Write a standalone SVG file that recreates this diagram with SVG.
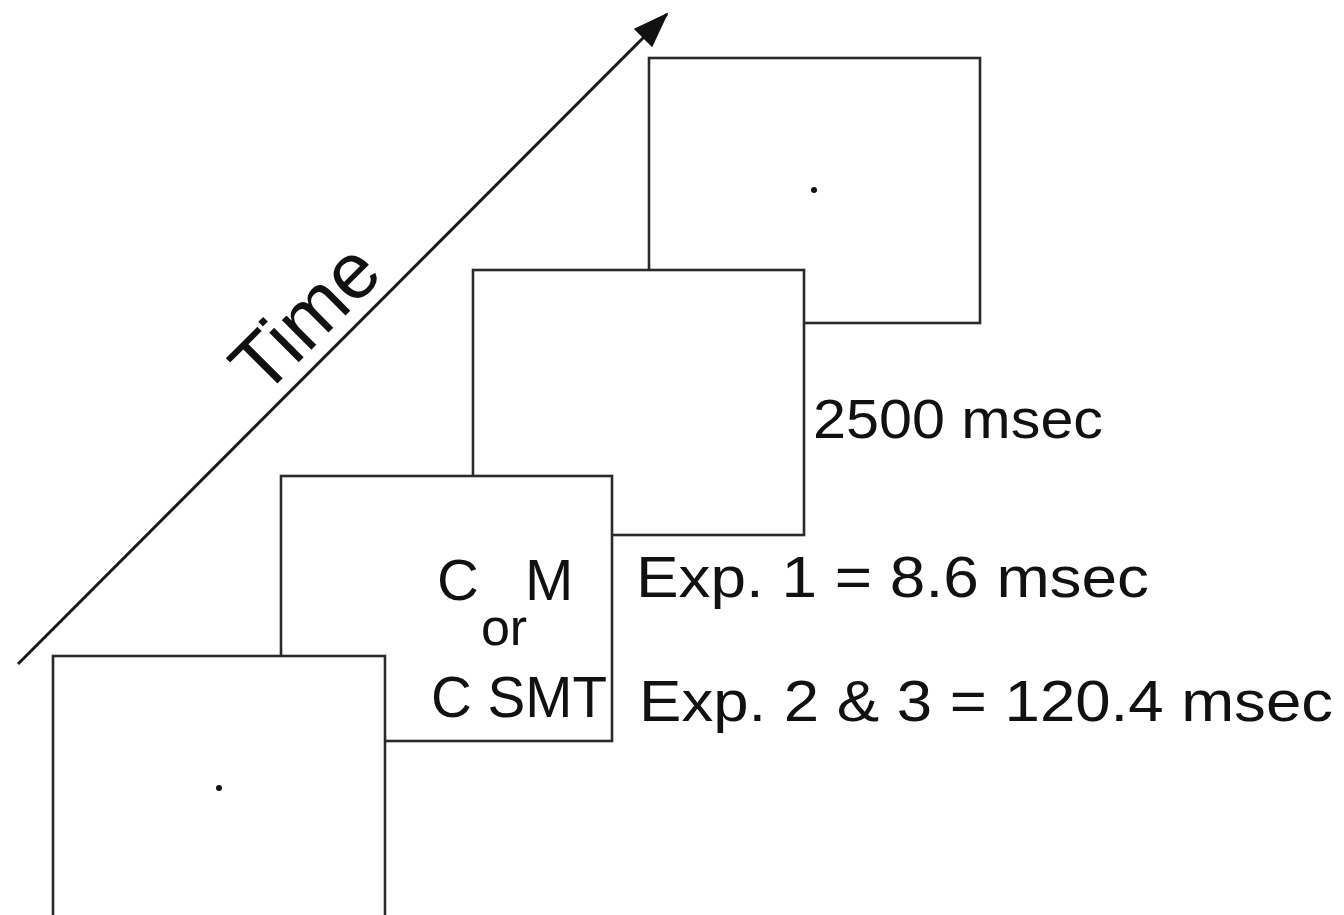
<svg xmlns="http://www.w3.org/2000/svg" width="1344" height="915" viewBox="0 0 1344 915">
  <style>
    .screen { fill: #ffffff; stroke: #2a2a2a; stroke-width: 2.6; }
    .fix { fill: #111111; }
    .lbl { font-family: "Liberation Sans", Arial, Helvetica, sans-serif; fill: #111111; }
    .axis { stroke: #1a1a1a; stroke-width: 3; fill: none; }
  </style>
  <defs>
    <marker id="arrowhead" markerUnits="userSpaceOnUse" markerWidth="40" markerHeight="30" refX="34" refY="13" orient="auto">
      <path d="M0,0 L36,13 L0,26 Z" fill="#111111"/>
    </marker>
  </defs>
  <rect width="1344" height="915" fill="#ffffff"/>

  <!-- time axis -->
  <g id="connectors">
    <line class="axis" x1="18" y1="664" x2="667" y2="14" marker-end="url(#arrowhead)"/>
  </g>
  <g id="time-label">
    <text class="lbl" x="324" y="337" font-size="79" text-anchor="middle" transform="rotate(-45 324 337)">Time</text>
  </g>

  <!-- frame 4: fixation after response window -->
  <g id="frame-fixation-end">
    <rect class="screen" x="649" y="58" width="331" height="265"/>
    <circle class="fix" cx="814" cy="190" r="3"/>
  </g>

  <!-- frame 3: blank response window -->
  <g id="frame-blank">
    <rect class="screen" x="473" y="270" width="331" height="265"/>
    <text class="lbl" x="813" y="438" font-size="56" textLength="290" lengthAdjust="spacingAndGlyphs">2500 msec</text>
  </g>

  <!-- frame 2: stimulus -->
  <g id="frame-stimulus">
    <rect class="screen" x="281" y="476" width="331" height="265"/>
    <text class="lbl" x="437" y="600" font-size="58">C</text>
    <text class="lbl" x="525" y="600" font-size="58">M</text>
    <text class="lbl" x="504" y="645" font-size="52" text-anchor="middle">or</text>
    <text class="lbl" x="431" y="717" font-size="58" textLength="176" lengthAdjust="spacingAndGlyphs">C SMT</text>
    <text class="lbl" x="636" y="597" font-size="58" textLength="513" lengthAdjust="spacingAndGlyphs">Exp. 1 = 8.6 msec</text>
    <text class="lbl" x="639" y="721" font-size="58" textLength="694" lengthAdjust="spacingAndGlyphs">Exp. 2 &amp; 3 = 120.4 msec</text>
  </g>

  <!-- frame 1: fixation -->
  <g id="frame-fixation-start">
    <rect class="screen" x="53" y="656" width="332" height="280"/>
    <circle class="fix" cx="219" cy="788" r="3"/>
  </g>
</svg>
